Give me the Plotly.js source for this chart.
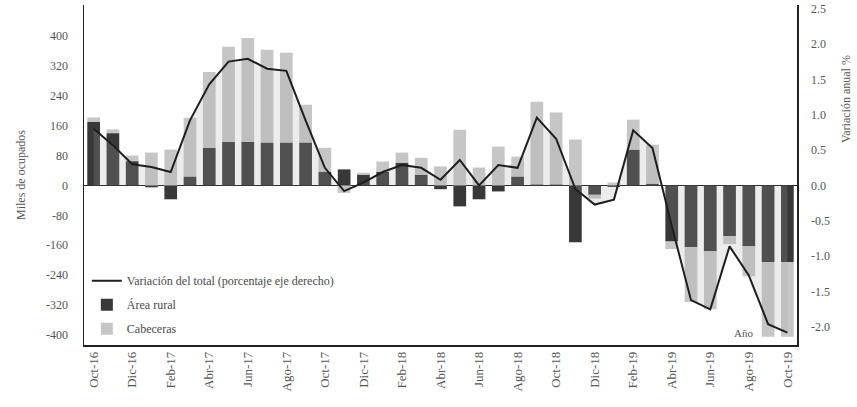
<!DOCTYPE html>
<html>
<head>
<meta charset="utf-8">
<script src="https://cdn.plot.ly/plotly-3.0.1.min.js"></script>
<style>html,body{margin:0;padding:0;background:#fff;}#chart{width:857px;height:407px;}</style>
</head>
<body>
<div id="chart"></div>
<script>
const months = ["Oct-16","Nov-16","Dic-16","Ene-17","Feb-17","Mar-17","Abr-17","May-17","Jun-17","Jul-17","Ago-17","Sep-17","Oct-17","Nov-17","Dic-17","Ene-18","Feb-18","Mar-18","Abr-18","May-18","Jun-18","Jul-18","Ago-18","Sep-18","Oct-18","Nov-18","Dic-18","Ene-19","Feb-19","Mar-19","Abr-19","May-19","Jun-19","Jul-19","Ago-19","Sep-19","Oct-19"];
const areaRural = [170,140,65,-5,-37,24,101,117,117,115,115,115,37,43,29,37,61,29,-10,-56,-37,-16,24,3,3,-152,-25,-4,96,5,-150,-165,-176,-136,-163,-205,-205];
const cabeceras = [12,10,15,88,96,157,203,254,278,248,240,101,64,-20,5,27,27,45,51,149,48,104,53,221,192,123,-10,8,80,104,-20,-147,-155,-21,-80,-200,-200];
const variacionTotal = [0.80,0.57,0.30,0.26,0.19,0.92,1.43,1.75,1.79,1.65,1.62,0.92,0.25,-0.08,0.04,0.19,0.29,0.25,0.08,0.36,0.00,0.29,0.25,0.96,0.66,-0.05,-0.27,-0.20,0.78,0.53,-0.57,-1.62,-1.75,-0.86,-1.27,-1.96,-2.08];
const tickLabels = months.filter((m, i) => i % 2 === 0);
const leftTicks = [400,320,240,160,80,0,-80,-160,-240,-320,-400];
const rightTicks = [2.5,2.0,1.5,1.0,0.5,0.0,-0.5,-1.0,-1.5,-2.0];

const serif = "Liberation Serif, Times New Roman, serif";
const traces = [
  {type:'scatter', x:months, y:variacionTotal, yaxis:'y2', mode:'none', fill:'tozeroy',
   fillcolor:'rgba(170,170,170,0.22)', showlegend:false, hoverinfo:'skip'},
  {type:'bar', x:months, y:areaRural, name:'Área rural', marker:{color:'#383838'},
   width:0.66, legendrank:2, legendgroup:'b'},
  {type:'bar', x:months, y:cabeceras, name:'Cabeceras', marker:{color:'#c6c6c6'},
   width:0.66, legendrank:3, legendgroup:'c'},
  {type:'scatter', x:months, y:variacionTotal, yaxis:'y2', mode:'lines',
   name:'Variación del total (porcentaje eje derecho)', line:{color:'#1e1e1e', width:2},
   legendrank:1, legendgroup:'a'}
];

const layout = {
  width:857, height:407,
  margin:{l:84, r:60, t:5, b:62},
  paper_bgcolor:'#fff', plot_bgcolor:'#fff',
  font:{family:serif, size:12, color:'#4a4a4a'},
  barmode:'relative', bargap:0.3,
  showlegend:true,
  legend:{x:0.004, y:0.005, xanchor:'left', yanchor:'bottom', bgcolor:'rgba(0,0,0,0)',
          font:{family:serif, size:12, color:'#4a4a4a'}, traceorder:'grouped', tracegroupgap:5},
  xaxis:{type:'category', range:[-0.5, 36.5], tickmode:'array', tickvals:tickLabels, ticktext:tickLabels,
         tickangle:-90, tickfont:{size:13, family:serif, color:'#555'}, showline:true, linecolor:'#222', linewidth:1.5,
         ticks:'', showgrid:false, zeroline:false},
  yaxis:{range:[-427, 483], tickmode:'array', tickvals:leftTicks, ticktext:leftTicks.map(String),
         tickfont:{size:12, family:serif, color:'#555'}, showline:true, linecolor:'#222', linewidth:1.5,
         showgrid:false, zeroline:true, zerolinecolor:'#222', zerolinewidth:1.5, ticks:'', ticklabelstandoff:12,
         title:{text:'Miles de ocupados', font:{size:12, family:serif, color:'#555'}, standoff:18}},
  yaxis2:{overlaying:'y', side:'right', range:[-2.254, 2.55], tickmode:'array', tickvals:rightTicks,
          ticktext:rightTicks.map(v => v.toFixed(1)), tickfont:{size:12, family:serif, color:'#555'},
          showline:true, linecolor:'#222', linewidth:1.5, showgrid:false, zeroline:false, ticks:'', ticklabelstandoff:10},
  annotations:[
    {xref:'paper', yref:'paper', x:1.068, y:0.86, text:'Variación anual %', textangle:-90, showarrow:false,
     font:{size:12, family:serif, color:'#555'}, xanchor:'center', yanchor:'top'},
    {xref:'paper', yref:'paper', x:0.925, y:0.035, text:'Año', showarrow:false,
     font:{size:11, family:serif, color:'#555'}, xanchor:'center', yanchor:'middle'}
  ]
};

Plotly.newPlot('chart', traces, layout, {displayModeBar:false, staticPlot:true});
</script>
</body>
</html>
